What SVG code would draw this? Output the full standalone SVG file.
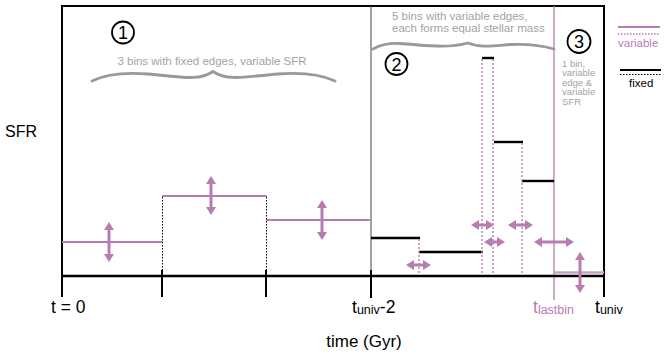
<svg xmlns="http://www.w3.org/2000/svg" width="665" height="356" viewBox="0 0 665 356">
<style>
text{font-family:"Liberation Sans",Arial,sans-serif}
.ax{stroke:#000;stroke-width:2;fill:none}
.mg{stroke:#b77db1;stroke-width:2;fill:none}
.mgd{stroke:#b77db1;stroke-width:1.4;stroke-dasharray:2 2;fill:none}
.bkd{stroke:#000;stroke-width:1;stroke-dasharray:1.5 1.5;fill:none}
.bk{stroke:#000;stroke-width:2.4;fill:none}
.arr{stroke:#b77db1;stroke-width:3;fill:none;marker-start:url(#ah);marker-end:url(#ah)}
.gt{fill:#a3a3a3}
.br{stroke:#999;stroke-width:2.8;fill:none;stroke-linecap:round}
.num{font-size:18px;text-anchor:middle;fill:#000}
.circ{fill:#fff;stroke:#000;stroke-width:1.8}
</style>
<defs>
<marker id="ah" markerUnits="userSpaceOnUse" markerWidth="8" markerHeight="10" viewBox="0 0 8 10" refX="1" refY="5" orient="auto-start-reverse">
<path d="M0,0 L8,5 L0,10 Z" fill="#b77db1"/>
</marker>
</defs>
<rect width="665" height="356" fill="#fff"/>

<g id="frame">
<path class="ax" d="M62,297 V6 H604 V297"/>
<line x1="371" y1="6" x2="371" y2="276" stroke="#444" stroke-width="1"/>
<line x1="554" y1="6" x2="554" y2="300" stroke="#b77db1" stroke-width="1.3"/>
</g>

<g id="bins-fixed-edges">
<line class="mg" x1="62" y1="242" x2="163" y2="242"/>
<line class="mg" x1="162" y1="196" x2="267" y2="196"/>
<line class="mg" x1="266" y1="220" x2="370" y2="220"/>
<line class="bkd" x1="162.5" y1="197" x2="162.5" y2="276"/>
<line class="bkd" x1="266.5" y1="197" x2="266.5" y2="276"/>
</g>

<g id="bins-variable-edges">
<line class="bk" x1="371" y1="238" x2="420" y2="238"/>
<line class="bk" x1="419" y1="252" x2="483" y2="252"/>
<line class="bk" x1="482" y1="58" x2="494" y2="58"/>
<line class="bk" x1="494" y1="142" x2="523" y2="142"/>
<line class="bk" x1="522" y1="181" x2="554" y2="181"/>
<line class="mgd" x1="419" y1="239" x2="419" y2="276"/>
<line class="mgd" x1="482" y1="59" x2="482" y2="276"/>
<line class="mgd" x1="493" y1="59" x2="493" y2="276"/>
<line class="mgd" x1="522" y1="143" x2="522" y2="276"/>
</g>

<g id="bin-last">
<line x1="554" y1="272.5" x2="604" y2="272.5" stroke="#c9a3c5" stroke-width="2.6"/>
</g>

<g id="axis">
<line x1="61" y1="276" x2="605" y2="276" stroke="#000" stroke-width="2.6"/>
<line class="ax" x1="162" y1="270" x2="162" y2="297"/>
<line class="ax" x1="266" y1="270" x2="266" y2="297"/>
<line class="ax" x1="371" y1="270" x2="371" y2="298"/>
</g>

<g id="arrows">
<line class="arr" x1="109" y1="229" x2="109" y2="255"/>
<line class="arr" x1="211" y1="183" x2="211" y2="208"/>
<line class="arr" x1="322" y1="207" x2="322" y2="233"/>
<line class="arr" x1="413" y1="265" x2="424" y2="265"/>
<line class="arr" x1="478" y1="225" x2="487" y2="225"/>
<line class="arr" x1="491" y1="242" x2="498" y2="242"/>
<line class="arr" x1="515" y1="225" x2="526" y2="225"/>
<line class="arr" x1="541" y1="242" x2="567" y2="242"/>
<line class="arr" x1="580" y1="259" x2="580" y2="286"/>
</g>

<g id="braces">
<path class="br" d="M92,81 C104,75 122,72 148,74 C176,76 198,82 213,71.5 C228,82 250,76 278,74 C304,72 322,75 335,81"/>
<path class="br" d="M373,49 C380,45 388,43 400,43.5 C425,45 445,49 468,43 C480,48 492,46 510,44.5 C530,43.5 544,46 554,49" stroke-width="2.4"/>
</g>

<g id="labels-1">
<circle class="circ" cx="123" cy="32.5" r="11"/>
<text class="num" x="123" y="39">1</text>
<text class="gt" x="212" y="65" font-size="11.5" text-anchor="middle">3 bins with fixed edges, variable SFR</text>
</g>
<g id="labels-2">
<circle class="circ" cx="396.5" cy="64" r="11"/>
<text class="num" x="396.5" y="70.5">2</text>
<text class="gt" x="392" y="20" font-size="11.5">5 bins with variable edges,</text>
<text class="gt" x="392" y="32" font-size="11.5">each forms equal stellar mass</text>
</g>
<g id="labels-3">
<circle class="circ" cx="579" cy="41.5" r="11.5"/>
<text class="num" x="579" y="48">3</text>
<text class="gt" font-size="9.5"><tspan x="562" y="66.5">1 bin,</tspan><tspan x="562" y="76">variable</tspan><tspan x="562" y="85.5">edge &amp;</tspan><tspan x="562" y="95">variable</tspan><tspan x="562" y="104.5">SFR</tspan></text>
</g>

<g id="legend">
<line x1="618" y1="27" x2="660" y2="27" stroke="#b77db1" stroke-width="1.8"/>
<line x1="618" y1="34" x2="660" y2="34" stroke="#b77db1" stroke-width="1.4" stroke-dasharray="1.5 1.5"/>
<text x="618" y="47" font-size="11.5" fill="#b77db1">variable</text>
<line x1="620" y1="70" x2="661" y2="70" stroke="#000" stroke-width="1.8"/>
<line x1="620" y1="74.5" x2="661" y2="74.5" stroke="#000" stroke-width="1.2" stroke-dasharray="1.5 1.5"/>
<text x="629" y="87" font-size="11.5" fill="#000">fixed</text>
</g>

<g id="axis-labels">
<text x="5" y="137" font-size="16">SFR</text>
<text x="51" y="313" font-size="17.5">t = 0</text>
<text x="352" y="313" font-size="17.5">t<tspan font-size="12.5" dy="1">univ</tspan><tspan dy="-1">-2</tspan></text>
<text x="533" y="313" font-size="17.5" fill="#b77db1">t<tspan font-size="12.5" dy="1">lastbin</tspan></text>
<text x="595" y="313" font-size="17.5">t<tspan font-size="12.5" dy="1">univ</tspan></text>
<text x="364" y="347" font-size="17" text-anchor="middle">time (Gyr)</text>
</g>
</svg>
